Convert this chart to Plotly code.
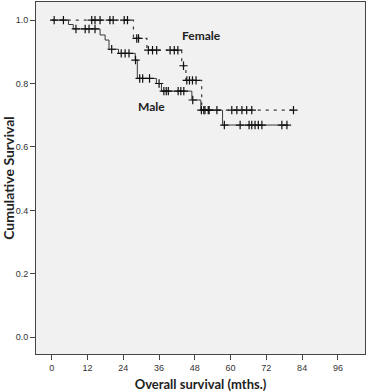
import plotly.graph_objects as go

# Male Kaplan-Meier steps
male_times = [0, 5.6, 7.2, 16.2, 17.9, 19.2, 22.4, 28.0, 28.7, 35.1, 36.8, 47.0, 50.0, 57.3, 79.3]
male_surv = [1.0, 0.986, 0.972, 0.953, 0.937, 0.908, 0.895, 0.874, 0.816, 0.800, 0.776, 0.748, 0.716, 0.669, 0.669]
male_cens_t = [8.1, 11.2, 12.5, 14.5, 20.1, 23.3, 24.6, 25.9, 28.1, 29.5, 30.5, 32.8, 36.0,
               37.6, 38.4, 39.1, 42.4, 43.3, 44.3, 47.3, 50.2, 51.4, 52.5, 55.4,
               57.9, 63.2, 66.2, 67.1, 68.2, 69.3, 70.5, 77.2, 78.9]
male_cens_s = [0.972, 0.972, 0.972, 0.972, 0.908, 0.895, 0.895, 0.895, 0.874, 0.816, 0.816, 0.816, 0.800,
               0.776, 0.776, 0.776, 0.776, 0.776, 0.776, 0.748, 0.716, 0.716, 0.716, 0.716,
               0.669, 0.669, 0.669, 0.669, 0.669, 0.669, 0.669, 0.669, 0.669]

# Female Kaplan-Meier steps
female_times = [0, 27.4, 31.9, 43.6, 45.0, 50.3, 81.1]
female_surv = [1.0, 0.942, 0.905, 0.856, 0.810, 0.716, 0.716]
female_cens_t = [0.8, 3.9, 13.4, 14.5, 16.2, 19.5, 20.6, 24.3, 25.4, 28.5, 29.1,
                 32.4, 33.8, 35.2, 39.7, 41.1, 42.3, 44.2, 45.3, 46.2, 47.2, 48.4,
                 51.0, 52.8, 60.4, 62.1, 63.8, 65.4, 67.1, 81.1]
female_cens_s = [1.0, 1.0, 1.0, 1.0, 1.0, 1.0, 1.0, 1.0, 1.0, 0.942, 0.942,
                 0.905, 0.905, 0.905, 0.905, 0.905, 0.905, 0.856, 0.810, 0.810, 0.810, 0.810,
                 0.716, 0.716, 0.716, 0.716, 0.716, 0.716, 0.716, 0.716]

x_ticks = [0, 12, 24, 36, 48, 60, 72, 84, 96]
y_ticks = [0.0, 0.2, 0.4, 0.6, 0.8, 1.0]

fig = go.Figure()
fig.add_trace(go.Scatter(x=female_times, y=female_surv, mode="lines", line_shape="hv",
                         line=dict(color="#3a3a3a", width=1.2, dash="3px,5px"), showlegend=False))
fig.add_trace(go.Scatter(x=male_times, y=male_surv, mode="lines", line_shape="hv",
                         line=dict(color="#3a3a3a", width=1), showlegend=False))
mk = dict(symbol="cross-thin", size=6, line=dict(color="#111111", width=1.2), color="#111111")
fig.add_trace(go.Scatter(x=female_cens_t, y=female_cens_s, mode="markers", marker=mk, showlegend=False))
fig.add_trace(go.Scatter(x=male_cens_t, y=male_cens_s, mode="markers", marker=mk, showlegend=False))

fig.add_annotation(x=50.1, y=0.95, text="<b>Female</b>", showarrow=False,
                   font=dict(family="Lato", size=12, color="#222222"))
fig.add_annotation(x=33.3, y=0.726, text="<b>Male</b>", showarrow=False,
                   font=dict(family="Lato", size=12, color="#222222"))

fig.update_layout(
    width=368, height=392,
    margin=dict(l=36, r=3, t=2, b=38),
    paper_bgcolor="white", plot_bgcolor="#f1f1f1",
    font=dict(family="Liberation Sans", size=9, color="#333333"),
    xaxis=dict(range=[-5.3, 105.1], tickvals=x_ticks, ticktext=[str(v) for v in x_ticks],
               showgrid=False, zeroline=False, showline=True, mirror=True, linecolor="#444444", linewidth=1,
               ticks="outside", ticklen=5, tickcolor="#444444", automargin=False,
               title=dict(text="<b>Overall survival (mths.)</b>", font=dict(family="Lato", size=13, color="#222222"))),
    yaxis=dict(range=[-0.053, 1.057], tickvals=y_ticks, ticktext=["%.1f" % v for v in y_ticks],
               showgrid=False, zeroline=False, showline=True, mirror=True, linecolor="#444444", linewidth=1,
               ticks="outside", ticklen=5, tickcolor="#444444", automargin=False,
               title=dict(text="<b>Cumulative Survival</b>", font=dict(family="Lato", size=14, color="#222222"))),
)
fig.write_html("out.html", config={"displayModeBar": False},
               post_script="document.body.style.margin='0';document.body.style.overflow='hidden';")
